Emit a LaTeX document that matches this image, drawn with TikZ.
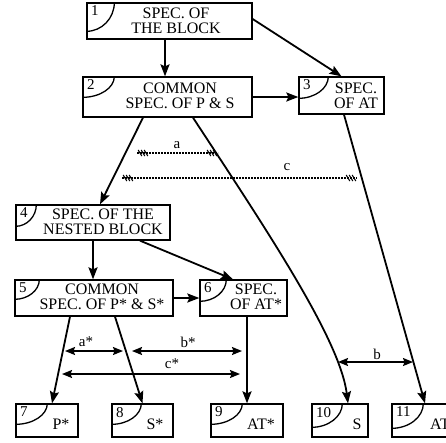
\documentclass[tikz,border=0pt]{standalone}
\usepackage{fontspec}
\setmainfont{Liberation Serif}
\usetikzlibrary{arrows.meta,decorations.markings}

\newcommand{\hatchmk}{\foreach \d in {-3,0,3}{\draw[solid,line width=1.1pt] ({\d*1pt-1.8pt},3pt) -- ({\d*1pt+1.8pt},-3pt);}}

\begin{document}
\begin{tikzpicture}[x=1pt,y=-1pt,
	box/.style={draw,line width=1.3pt,inner sep=0pt},
	num/.style={anchor=north west,inner sep=0pt,font=\fontsize{15}{15}\selectfont},
	txt/.style={align=center,inner sep=0pt,font=\fontsize{16}{14.5}\selectfont},
	lbl/.style={inner sep=0pt,font=\fontsize{15}{15}\selectfont},
	arr/.style={-{Stealth[length=12pt,width=9pt,inset=2pt]},line width=1.8pt},
	dbl/.style={{Stealth[length=10pt,width=8pt,inset=1.5pt]}-{Stealth[length=10pt,width=8pt,inset=1.5pt]},line width=1.5pt},
	dsh/.style={line width=1.1pt,dash pattern=on 2pt off 1pt,
		postaction={decorate,decoration={markings,
			mark=at position 6pt with {\hatchmk},
			mark=at position -6pt with {\hatchmk}}}}
]
	\useasboundingbox (0,0) rectangle (446,442);

	% upper blocks
	\node[box,minimum width=165pt,minimum height=36pt] at (169.5,21) (b1) {};
	\node[txt] at (176,21) (t1) {SPEC. OF\\THE BLOCK};
	\node[box,minimum width=169pt,minimum height=40pt] at (167.5,97) (b2) {};
	\node[txt] at (180,96) (t2) {COMMON\\SPEC. OF P \& S};
	\node[box,minimum width=85pt,minimum height=37pt] at (341.5,95.5) (b3) {};
	\node[txt] at (356,96) (t3) {SPEC.\\OF AT};

	% nested block
	\node[box,minimum width=154pt,minimum height=35pt] at (93,222.5) (b4) {};
	\node[txt] at (103,222) (t4) {SPEC. OF THE\\NESTED BLOCK};
	\node[box,minimum width=158pt,minimum height=36pt] at (94,298) (b5) {};
	\node[txt] at (102,297) (t5) {COMMON\\SPEC. OF P* \& S*};
	\node[box,minimum width=87pt,minimum height=36pt] at (243.5,298) (b6) {};
	\node[txt] at (256,297) (t6) {SPEC.\\OF AT*};

	% leaves
	\node[box,minimum width=62pt,minimum height=33pt] at (47,420.5) (b7) {};
	\node[txt] at (61,424) (t7) {P*};
	\node[box,minimum width=61pt,minimum height=33pt] at (142.5,420.5) (b8) {};
	\node[txt] at (155,424) (t8) {S*};
	\node[box,minimum width=72pt,minimum height=33pt] at (247,420.5) (b9) {};
	\node[txt] at (261,424) (t9) {AT*};
	\node[box,minimum width=56pt,minimum height=33pt] at (340,420.5) (b10) {};
	\node[txt] at (357,424) (t10) {S};
	\node[box,minimum width=73pt,minimum height=33pt] at (428.5,420.5) (b11) {};
	\node[txt] at (440,424) (t11) {AT};

	% corner tags
	\foreach \n/\w/\h in {1/28/29,2/32/21,3/30/22,4/21/22,5/25/20,6/27/22,
		7/32/21,8/30/21,9/32/21,10/31/24,11/32/25}{
		\draw[line width=1.3pt] ([xshift=\w pt]b\n.north west)
			arc[start angle=0,end angle=-90,x radius=\w pt,y radius=\h pt];
		\node[num] at ([shift={(4.5pt,-3.5pt)}]b\n.north west) (n\n) {\n};
	}

	\draw[arr] ([xshift=-4.5pt]b1.south) -- ([xshift=-2.5pt]b2.north);
	\draw[arr] ([yshift=2pt]b1.east) -- (b3.north);
	\draw[arr] (b2.east) -- (b2.east -| b3.west);
	\draw[arr] ([xshift=-24.5pt]b2.south) -- ([xshift=7pt]b4.north);
	\draw[arr] ([xshift=25.5pt]b2.south) .. controls (270,235) and (340,340) .. ([xshift=8pt]b10.north);
	\draw[arr] ([xshift=2.5pt]b3.south) -- ([xshift=-3.5pt]b11.north);
	\draw[arr] (b4.south) -- (b4.south |- b5.north);
	\draw[arr] ([xshift=47pt]b4.south) -- ([xshift=-10.5pt]b6.north);
	\draw[arr] (b5.east) -- (b6.west);
	\draw[arr] ([xshift=-24pt]b5.south) -- ([xshift=5pt]b7.north);
	\draw[arr] ([xshift=21pt]b5.south) -- (b8.north);
	\draw[arr] (b9.north |- b6.south) -- (b9.north);

	% distances
	\coordinate (a1) at (137,153);
	\coordinate (a2) at (218,153);
	\coordinate (c1) at (122,178);
	\coordinate (c2) at (357,178);
	\draw[dsh] (a1) -- (a2);
	\draw[dsh] (c1) -- (c2);
	\node[lbl] at (177,145) (la) {a};
	\node[lbl] at (287,167) (lc) {c};

	\coordinate (as1) at (65,351);
	\coordinate (as2) at (123,351);
	\coordinate (bs1) at (132,351);
	\coordinate (bs2) at (242,351);
	\coordinate (cs1) at (62,374);
	\coordinate (cs2) at (240,374);
	\coordinate (bb1) at (338,362);
	\coordinate (bb2) at (413,362);
	\draw[dbl] (as1) -- (as2);
	\draw[dbl] (bs1) -- (bs2);
	\draw[dbl] (cs1) -- (cs2);
	\draw[dbl] (bb1) -- (bb2);
	\node[lbl] at (86,342) (las) {a*};
	\node[lbl] at (188,342) (lbs) {b*};
	\node[lbl] at (172,364) (lcs) {c*};
	\node[lbl] at (377,354) (lbb) {b};
\end{tikzpicture}
\end{document}
